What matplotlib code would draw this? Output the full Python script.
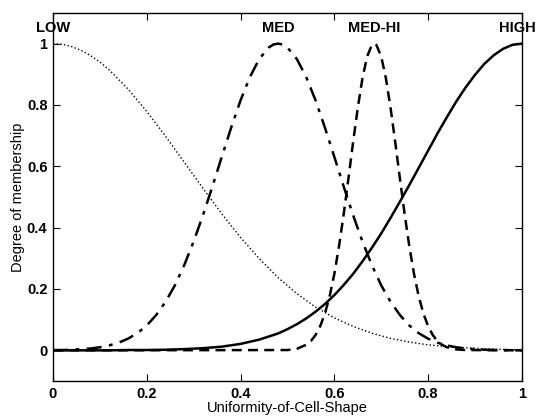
import matplotlib
matplotlib.use("Agg")
import matplotlib.pyplot as plt

plt.rcParams['font.family'] = ['Liberation Sans', 'DejaVu Sans']

# LOW (dotted)
low_x = [0.00, 0.02, 0.04, 0.06, 0.08, 0.10, 0.12, 0.16, 0.20, 0.24, 0.28, 0.32, 0.36, 0.40, 0.44, 0.48,
         0.52, 0.56, 0.60, 0.64, 0.68, 0.72, 0.76, 0.80, 0.84, 0.88, 0.92, 0.96, 1.00]
low_y = [1.000, 0.998, 0.990, 0.978, 0.961, 0.940, 0.914, 0.852, 0.779, 0.698, 0.613, 0.528, 0.445, 0.368, 0.299, 0.237,
         0.185, 0.141, 0.106, 0.078, 0.056, 0.039, 0.027, 0.018, 0.012, 0.008, 0.005, 0.003, 0.002]

# MED (dash-dot)
med_x = [0.00, 0.02, 0.04, 0.06, 0.08, 0.10, 0.12, 0.14, 0.16, 0.18, 0.20, 0.22, 0.24, 0.26,
         0.28, 0.30, 0.32, 0.34, 0.36, 0.38, 0.40, 0.42, 0.44, 0.46, 0.47, 0.48, 0.49, 0.50, 0.52, 0.54,
         0.56, 0.58, 0.60, 0.62, 0.64, 0.66, 0.68, 0.70, 0.72, 0.74, 0.76, 0.78, 0.80, 0.82,
         0.84, 0.86, 0.88, 0.90, 0.92, 0.94, 0.96, 0.98, 1.00]
med_y = [0.001, 0.001, 0.002, 0.004, 0.006, 0.010, 0.016, 0.025, 0.038, 0.056, 0.081, 0.115, 0.158, 0.212,
         0.278, 0.355, 0.441, 0.534, 0.631, 0.726, 0.815, 0.891, 0.950, 0.987, 0.997, 1.000, 0.997, 0.987, 0.950, 0.891,
         0.815, 0.726, 0.631, 0.534, 0.441, 0.355, 0.278, 0.212, 0.158, 0.115, 0.081, 0.056, 0.038, 0.025,
         0.016, 0.010, 0.006, 0.004, 0.002, 0.001, 0.001, 0.000, 0.000]

# MED-HI (dashed)
medhi_x = [0.00, 0.50, 0.52, 0.54, 0.55, 0.56, 0.57, 0.58, 0.59, 0.60, 0.61, 0.62, 0.63, 0.64,
           0.65, 0.66, 0.67, 0.68, 0.685, 0.69, 0.70, 0.71, 0.72, 0.73, 0.74, 0.75, 0.76, 0.77,
           0.78, 0.79, 0.80, 0.81, 0.82, 0.83, 0.84, 0.86, 0.88, 1.00]
medhi_y = [0.000, 0.001, 0.005, 0.018, 0.030, 0.050, 0.079, 0.120, 0.176, 0.249, 0.339, 0.444, 0.559, 0.678,
           0.790, 0.887, 0.958, 0.995, 1.000, 0.995, 0.958, 0.887, 0.790, 0.678, 0.559, 0.444, 0.339, 0.249,
           0.176, 0.120, 0.079, 0.050, 0.030, 0.018, 0.010, 0.003, 0.001, 0.000]

# HIGH (solid)
high_x = [0.00, 0.04, 0.08, 0.12, 0.16, 0.20, 0.24, 0.28, 0.32, 0.36, 0.40, 0.44, 0.48, 0.50,
          0.52, 0.54, 0.56, 0.58, 0.60, 0.62, 0.64, 0.66, 0.68, 0.70, 0.72, 0.74, 0.76, 0.78,
          0.80, 0.82, 0.84, 0.86, 0.88, 0.90, 0.92, 0.94, 0.96, 0.98, 1.00]
high_y = [0.000, 0.000, 0.000, 0.000, 0.001, 0.001, 0.002, 0.004, 0.007, 0.012, 0.021, 0.035, 0.055, 0.069,
          0.085, 0.104, 0.126, 0.151, 0.180, 0.213, 0.249, 0.290, 0.334, 0.381, 0.432, 0.485, 0.539, 0.595,
          0.651, 0.707, 0.760, 0.811, 0.857, 0.898, 0.934, 0.962, 0.983, 0.996, 1.000]

labels = ["LOW", "MED", "MED-HI", "HIGH"]
label_x = [0.0, 0.48, 0.685, 0.99]

xticks = [0, 0.2, 0.4, 0.6, 0.8, 1]
xticklabels = ["0", "0.2", "0.4", "0.6", "0.8", "1"]
yticks = [0, 0.2, 0.4, 0.6, 0.8, 1]
yticklabels = ["0", "0.2", "0.4", "0.6", "0.8", "1"]

fig = plt.figure(figsize=(5.38, 4.17), dpi=100)
ax = fig.add_axes([0.0985, 0.0863, 0.8715, 0.8827])

ax.plot(low_x, low_y, color='black', linestyle=':', linewidth=1.0)
ax.plot(med_x, med_y, color='black', linestyle='-.', linewidth=1.8, dashes=(6, 3, 1.5, 3))
ax.plot(medhi_x, medhi_y, color='black', linestyle='--', linewidth=1.8, dashes=(4, 2.5))
ax.plot(high_x, high_y, color='black', linestyle='-', linewidth=1.8)

for t, x in zip(labels, label_x):
    ax.text(x, 1.05, t, ha='center', va='center', fontsize=10.5, fontweight='bold', clip_on=False)

ax.set_xlim(0, 1)
ax.set_ylim(-0.1, 1.1)
ax.set_xticks(xticks)
ax.set_xticklabels(xticklabels)
ax.set_yticks(yticks)
ax.set_yticklabels(yticklabels)
ax.tick_params(direction='in', top=True, right=True, length=5, width=0.8,
               labelsize=10.5, pad=4)
for lab in ax.get_xticklabels() + ax.get_yticklabels():
    lab.set_fontweight('bold')
for s in ax.spines.values():
    s.set_linewidth(1.0)

ax.set_xlabel("Uniformity-of-Cell-Shape", fontsize=10.5, labelpad=0)
ax.set_ylabel("Degree of membership", fontsize=10.5, labelpad=1)

fig.savefig("out.png", dpi=100)
